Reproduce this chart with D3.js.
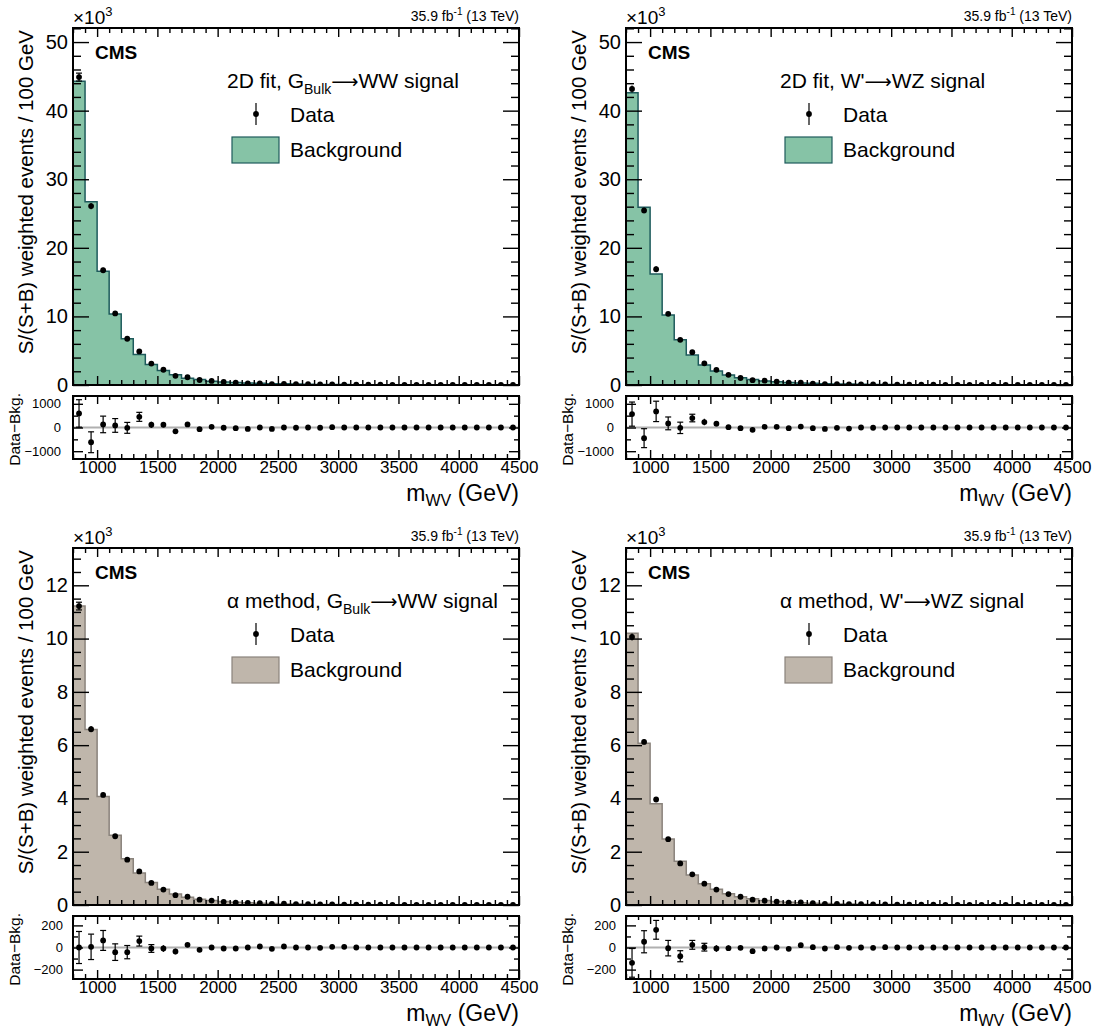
<!DOCTYPE html>
<html><head><meta charset="utf-8">
<script src="https://cdn.jsdelivr.net/npm/d3@7"></script>
<style>body{margin:0;background:#fff} svg text{font-family:"Liberation Sans",Arial,Helvetica,sans-serif}</style>
</head><body><svg id="c" width="1096" height="1028"></svg>
<script>
// ---------- data ----------
const binLow = [800,900,1000,1100,1200,1300,1400,1500,1600,1700,1800,1900,2000,2100,2200,2300,2400,2500,2600,2700,2800,2900,3000,3100,3200,3300,3400,3500,3600,3700,3800,3900,4000,4100,4200,4300,4400];
const xRange = [800, 4500];
const xMajorTicks = [1000,1500,2000,2500,3000,3500,4000,4500];
const mainTicksTop = [0,10,20,30,40,50];
const mainTicksBottom = [0,2,4,6,8,10,12];
const ratioTicksTop = [-1000,0,1000];
const ratioTicksBottom = [-200,0,200];

// 2D fit, G_Bulk -> WW  (main panel in units of 10^3, residuals in events)
const bkg2DWW = [44.3,26.7,16.6,10.35,6.75,4.45,3.0,2.1,1.5,1.0,0.8,0.56,0.45,0.37,0.3,0.25,0.2,0.165,0.135,0.11,0.09,0.075,0.063,0.053,0.045,0.038,0.032,0.027,0.023,0.02,0.017,0.015,0.013,0.011,0.01,0.009,0.008];
const data2DWW = [44.89,26.08,16.73,10.44,6.74,4.9,3.12,2.22,1.34,1.13,0.73,0.59,0.44,0.34,0.24,0.25,0.14,0.165,0.135,0.11,0.09,0.09,0.063,0.053,0.045,0.038,0.032,0.027,0.023,0.02,0.017,0.015,0.013,0.011,0.01,0.009,0.008];
const res2DWW = [594,-623,130,87,-15,450,116,116,-160,130,-72,30,-10,-30,-60,0,-60,0,-10,0,-10,15,0,0,0,0,0,0,0,0,0,0,0,0,0,0,0];
const err2DWW = [580,440,350,290,230,190,125,100,80,70,55,45,40,35,30,28,25,22,20,18,16,15,14,12,11,10,9,8,8,7,7,6,6,5,5,5,5];

// 2D fit, W' -> WZ
const bkg2DWZ = [42.6,25.9,16.2,10.2,6.6,4.38,2.93,2.05,1.46,1.05,0.8,0.6,0.47,0.37,0.3,0.24,0.19,0.155,0.13,0.105,0.087,0.072,0.06,0.05,0.043,0.036,0.031,0.026,0.022,0.019,0.016,0.014,0.012,0.01,0.009,0.008,0.007];
const data2DWZ = [43.17,25.45,16.88,10.37,6.59,4.78,3.16,2.21,1.48,1.02,0.7,0.63,0.5,0.34,0.34,0.21,0.13,0.14,0.085,0.105,0.097,0.072,0.06,0.05,0.043,0.036,0.031,0.026,0.022,0.019,0.016,0.014,0.012,0.01,0.009,0.008,0.007];
const res2DWZ = [565,-450,680,174,-15,400,230,160,15,-30,-100,30,30,-30,40,-30,-60,-15,-45,0,-10,0,0,0,0,0,0,0,0,0,0,0,0,0,0,0,0];
const err2DWZ = [510,400,430,270,240,160,140,110,80,50,45,40,35,30,28,25,22,20,18,16,15,14,12,11,10,9,8,8,7,7,6,6,5,5,5,5,5];

// alpha method, G_Bulk -> WW
const bkgAlWW = [11.22,6.59,4.07,2.62,1.74,1.2,0.84,0.59,0.41,0.29,0.22,0.165,0.13,0.1,0.08,0.064,0.052,0.042,0.034,0.028,0.023,0.019,0.016,0.013,0.011,0.009,0.008,0.007,0.006,0.005,0.0045,0.004,0.0035,0.003,0.0027,0.0024,0.0021];
const dataAlWW = [11.22,6.6,4.13,2.58,1.7,1.26,0.83,0.58,0.37,0.31,0.2,0.165,0.12,0.09,0.08,0.073,0.04,0.051,0.034,0.028,0.023,0.025,0.016,0.013,0.011,0.009,0.008,0.007,0.006,0.005,0.0045,0.004,0.0035,0.003,0.0027,0.0024,0.0021];
const resAlWW = [0,6,64,-42,-42,58,-9,-9,-36,24,-21,0,-9,-9,0,9,-12,9,0,0,-3,6,6,0,0,0,0,0,0,0,0,0,0,0,0,0,0];
const errAlWW = [145,115,90,75,60,45,35,30,25,20,15,12,10,9,8,7,6,5,5,4,4,4,3,3,3,3,3,2,2,2,2,2,2,2,2,2,2];

// alpha method, W' -> WZ
const bkgAlWZ = [10.2,6.07,3.8,2.48,1.64,1.13,0.8,0.59,0.42,0.31,0.23,0.17,0.13,0.1,0.08,0.064,0.052,0.042,0.034,0.028,0.023,0.019,0.016,0.013,0.011,0.009,0.008,0.007,0.006,0.005,0.0045,0.004,0.0035,0.003,0.0027,0.0024,0.0021];
const dataAlWZ = [10.06,6.12,3.96,2.47,1.56,1.15,0.8,0.58,0.41,0.31,0.2,0.16,0.13,0.09,0.1,0.067,0.043,0.045,0.034,0.034,0.026,0.019,0.016,0.013,0.011,0.009,0.008,0.007,0.006,0.005,0.0045,0.004,0.0035,0.003,0.0027,0.0024,0.0021];
const resAlWZ = [-139,52,160,-6,-79,24,3,-9,-6,-3,-33,-9,0,-12,21,3,-9,3,-3,0,-3,3,0,0,0,0,0,0,0,0,0,0,0,0,0,0,0];
const errAlWZ = [130,100,85,70,50,40,35,30,25,20,15,12,10,9,8,7,6,5,5,4,4,4,3,3,3,3,3,2,2,2,2,2,2,2,2,2,2];

const headers = [
  [["2D fit, G",""],["Bulk","sub"],["\u27f6","arrow"],["WW signal",""]],
  [["2D fit, W'",""],["\u27f6","arrow"],["WZ signal",""]],
  [["\u03b1 method, G",""],["Bulk","sub"],["\u27f6","arrow"],["WW signal",""]],
  [["\u03b1 method, W'",""],["\u27f6","arrow"],["WZ signal",""]]
];

// ---------- layout ----------
const W = 446, MH = 357, RT = 368, RH = 63;
const GREEN = {fill:"#86c3a6", stroke:"#1e5b5c"};
const BEIGE = {fill:"#bfb6ab", stroke:"#8a837c"};

const panels = [
  {col:0,row:0,bkg:bkg2DWW,data:data2DWW,res:res2DWW,err:err2DWW,col_:GREEN,yMax:52.05,yTicks:mainTicksTop,yMinor:2,rMax:1330,rTicks:ratioTicksTop,rMinor:500,rPad:12,hdr:headers[0]},
  {col:1,row:0,bkg:bkg2DWZ,data:data2DWZ,res:res2DWZ,err:err2DWZ,col_:GREEN,yMax:52.05,yTicks:mainTicksTop,yMinor:2,rMax:1330,rTicks:ratioTicksTop,rMinor:500,rPad:12,hdr:headers[1]},
  {col:0,row:1,bkg:bkgAlWW,data:dataAlWW,res:resAlWW,err:errAlWW,col_:BEIGE,yMax:13.4,yTicks:mainTicksBottom,yMinor:0.5,rMax:285,rTicks:ratioTicksBottom,rMinor:100,rPad:10,hdr:headers[2]},
  {col:1,row:1,bkg:bkgAlWZ,data:dataAlWZ,res:resAlWZ,err:errAlWZ,col_:BEIGE,yMax:13.4,yTicks:mainTicksBottom,yMinor:0.5,rMax:285,rTicks:ratioTicksBottom,rMinor:100,rPad:10,hdr:headers[3]}
];

const svg = d3.select("#c");
const defs = svg.append("defs");
const FONT = '"Liberation Sans",Arial,Helvetica,sans-serif';

function styleAxis(sel, fs){
  sel.attr("font-family", FONT).attr("font-size", fs);
  sel.select(".domain").remove();
  sel.selectAll(".tick line").attr("stroke","#000").attr("stroke-width",1.4);
  sel.selectAll(".tick text").attr("fill","#000");
}

function minorList(lo, hi, step, majors){
  const out = [];
  for (let v = Math.ceil(lo/step)*step; v <= hi + 1e-9; v += step) {
    const r = Math.round(v*1000)/1000;
    if (!majors.some(m => Math.abs(m - r) < 1e-6)) out.push(r);
  }
  return out;
}

panels.forEach((p, i) => {
  const x0 = p.col ? 626 : 73, y0 = p.row ? 548 : 28;
  const x = d3.scaleLinear().domain(xRange).range([0, W]);
  const y = d3.scaleLinear().domain([0, p.yMax]).range([MH, 0]);
  const yr = d3.scaleLinear().domain([-p.rMax, p.rMax]).range([RH, 0]);
  const xMinor = minorList(800, 4500, 100, xMajorTicks);

  defs.append("clipPath").attr("id","cm"+i).append("rect").attr("width",W).attr("height",MH);
  defs.append("clipPath").attr("id","cr"+i).append("rect").attr("width",W).attr("height",RH);

  // ===== main panel =====
  const g = svg.append("g").attr("transform",`translate(${x0},${y0})`);
  const steps = binLow.map((b,j)=>({x:b, v:p.bkg[j]}));
  steps.push({x:xRange[1], v:p.bkg[p.bkg.length-1]});
  const gc = g.append("g").attr("clip-path",`url(#cm${i})`);
  gc.append("path").datum(steps)
    .attr("d", d3.area().curve(d3.curveStepAfter).x(d=>x(d.x)).y0(y(0)).y1(d=>y(d.v)))
    .attr("fill", p.col_.fill);
  gc.append("path").datum(steps)
    .attr("d", d3.line().curve(d3.curveStepAfter).x(d=>x(d.x)).y(d=>y(d.v)))
    .attr("fill","none").attr("stroke", p.col_.stroke).attr("stroke-width",1.5);

  const pts = binLow.map((b,j)=>({c:b+50, v:p.data[j], e:p.err[j]/1000, r:p.res[j], re:p.err[j]}));
  const pm = gc.append("g");
  pm.selectAll("line.eb").data(pts).join("line").attr("class","eb")
    .attr("x1",d=>x(d.c)).attr("x2",d=>x(d.c)).attr("y1",d=>y(d.v+d.e)).attr("y2",d=>y(d.v-d.e))
    .attr("stroke","#000").attr("stroke-width",1.2);
  pm.selectAll("line.ct").data(pts.filter(d=>y(d.v-d.e)-y(d.v+d.e)>7)).join("line").attr("class","ct")
    .attr("x1",d=>x(d.c)-3).attr("x2",d=>x(d.c)+3).attr("y1",d=>y(d.v+d.e)).attr("y2",d=>y(d.v+d.e))
    .attr("stroke","#000").attr("stroke-width",1.2);
  pm.selectAll("line.cb").data(pts.filter(d=>y(d.v-d.e)-y(d.v+d.e)>7)).join("line").attr("class","cb")
    .attr("x1",d=>x(d.c)-3).attr("x2",d=>x(d.c)+3).attr("y1",d=>y(d.v-d.e)).attr("y2",d=>y(d.v-d.e))
    .attr("stroke","#000").attr("stroke-width",1.2);
  pm.selectAll("circle").data(pts).join("circle")
    .attr("cx",d=>x(d.c)).attr("cy",d=>y(d.v)).attr("r",2.9).attr("fill","#000");

  // axes main
  const yMinor = minorList(0, p.yMax, p.yMinor, p.yTicks);
  g.append("g").call(d3.axisLeft(y).tickValues(p.yTicks).tickSize(-16).tickPadding(5).tickFormat(d3.format("d"))).call(s=>styleAxis(s,20));
  g.append("g").call(d3.axisLeft(y).tickValues(yMinor).tickSize(-8).tickFormat("")).call(s=>styleAxis(s,10));
  g.append("g").attr("transform",`translate(${W},0)`).call(d3.axisRight(y).tickValues(p.yTicks).tickSize(-16).tickFormat("")).call(s=>styleAxis(s,10));
  g.append("g").attr("transform",`translate(${W},0)`).call(d3.axisRight(y).tickValues(yMinor).tickSize(-8).tickFormat("")).call(s=>styleAxis(s,10));
  g.append("g").call(d3.axisTop(x).tickValues(xMajorTicks).tickSize(-9).tickFormat("")).call(s=>styleAxis(s,10));
  g.append("g").call(d3.axisTop(x).tickValues(xMinor).tickSize(-5).tickFormat("")).call(s=>styleAxis(s,10));
  g.append("g").attr("transform",`translate(0,${MH})`).call(d3.axisBottom(x).tickValues(xMajorTicks).tickSize(-9).tickFormat("")).call(s=>styleAxis(s,10));
  g.append("g").attr("transform",`translate(0,${MH})`).call(d3.axisBottom(x).tickValues(xMinor).tickSize(-5).tickFormat("")).call(s=>styleAxis(s,10));
  g.append("rect").attr("width",W).attr("height",MH).attr("fill","none").attr("stroke","#000").attr("stroke-width",2);

  // texts
  const t10 = g.append("text").attr("x",0).attr("y",-4).attr("font-size",19);
  t10.append("tspan").text("\u00d710");
  t10.append("tspan").attr("font-size",13).attr("dy",-8).text("3");
  const lumi = g.append("text").attr("x",W).attr("y",-7).attr("text-anchor","end").attr("font-size",14);
  lumi.append("tspan").text("35.9 fb");
  lumi.append("tspan").attr("font-size",10).attr("dy",-6).text("-1");
  lumi.append("tspan").attr("dy",6).text(" (13 TeV)");
  g.append("text").attr("x",22).attr("y",31).attr("font-size",19).attr("font-weight","bold").text("CMS");

  // legend
  const hdr = g.append("text").attr("x",154).attr("y",60).attr("font-size",21);
  let shifted = false;
  p.hdr.forEach(([txt, kind]) => {
    const ts = hdr.append("tspan").text(txt);
    if (kind === "sub") { ts.attr("font-size",14).attr("dy",6); shifted = true; return; }
    if (shifted) { ts.attr("dy",-6); shifted = false; }
    if (kind === "arrow") { ts.attr("font-family",'"DejaVu Sans",sans-serif').attr("font-size",19); }
  });
  g.append("line").attr("x1",183).attr("x2",183).attr("y1",75).attr("y2",97).attr("stroke","#000").attr("stroke-width",1.2);
  g.append("circle").attr("cx",183).attr("cy",86).attr("r",2.9).attr("fill","#000");
  g.append("text").attr("x",217).attr("y",94).attr("font-size",21).text("Data");
  g.append("rect").attr("x",159).attr("y",109).attr("width",47).attr("height",26)
    .attr("fill",p.col_.fill).attr("stroke",p.col_.stroke).attr("stroke-width",1.2);
  g.append("text").attr("x",217).attr("y",129).attr("font-size",21).text("Background");

  // y title
  g.append("text").attr("transform",`translate(-40,2) rotate(-90)`).attr("text-anchor","end")
    .attr("font-size",20.5).text("S/(S+B) weighted events / 100 GeV");

  // ===== ratio panel =====
  const r = svg.append("g").attr("transform",`translate(${x0},${y0+RT})`);
  const rc = r.append("g").attr("clip-path",`url(#cr${i})`);
  rc.append("line").attr("x1",0).attr("x2",W).attr("y1",yr(0)).attr("y2",yr(0)).attr("stroke","#b0b0b0").attr("stroke-width",2);
  rc.selectAll("line.eb").data(pts).join("line").attr("class","eb")
    .attr("x1",d=>x(d.c)).attr("x2",d=>x(d.c)).attr("y1",d=>yr(d.r+d.re)).attr("y2",d=>yr(d.r-d.re))
    .attr("stroke","#000").attr("stroke-width",1.2);
  const big = pts.filter(d=>yr(d.r-d.re)-yr(d.r+d.re)>7);
  rc.selectAll("line.ct").data(big).join("line").attr("class","ct")
    .attr("x1",d=>x(d.c)-3).attr("x2",d=>x(d.c)+3).attr("y1",d=>yr(d.r+d.re)).attr("y2",d=>yr(d.r+d.re))
    .attr("stroke","#000").attr("stroke-width",1.2);
  rc.selectAll("line.cb").data(big).join("line").attr("class","cb")
    .attr("x1",d=>x(d.c)-3).attr("x2",d=>x(d.c)+3).attr("y1",d=>yr(d.r-d.re)).attr("y2",d=>yr(d.r-d.re))
    .attr("stroke","#000").attr("stroke-width",1.2);
  rc.selectAll("circle").data(pts).join("circle")
    .attr("cx",d=>x(d.c)).attr("cy",d=>yr(d.r)).attr("r",2.9).attr("fill","#000");

  const rMinor = minorList(-p.rMax, p.rMax, p.rMinor, p.rTicks);
  r.append("g").call(d3.axisLeft(yr).tickValues(p.rTicks).tickSize(-10).tickPadding(p.rPad).tickFormat(d3.format("d"))).call(s=>styleAxis(s,13));
  r.append("g").call(d3.axisLeft(yr).tickValues(rMinor).tickSize(-5).tickFormat("")).call(s=>styleAxis(s,10));
  r.append("g").attr("transform",`translate(${W},0)`).call(d3.axisRight(yr).tickValues(p.rTicks).tickSize(-10).tickFormat("")).call(s=>styleAxis(s,10));
  r.append("g").attr("transform",`translate(${W},0)`).call(d3.axisRight(yr).tickValues(rMinor).tickSize(-5).tickFormat("")).call(s=>styleAxis(s,10));
  r.append("g").call(d3.axisTop(x).tickValues(xMajorTicks).tickSize(-8).tickFormat("")).call(s=>styleAxis(s,10));
  r.append("g").call(d3.axisTop(x).tickValues(xMinor).tickSize(-4).tickFormat("")).call(s=>styleAxis(s,10));
  r.append("g").attr("transform",`translate(0,${RH})`).call(d3.axisBottom(x).tickValues(xMajorTicks).tickSize(-9).tickPadding(2).tickFormat(d3.format("d"))).call(s=>styleAxis(s,17));
  r.append("g").attr("transform",`translate(0,${RH})`).call(d3.axisBottom(x).tickValues(xMinor).tickSize(-5).tickFormat("")).call(s=>styleAxis(s,10));
  r.append("rect").attr("width",W).attr("height",RH).attr("fill","none").attr("stroke","#000").attr("stroke-width",2);

  r.append("text").attr("transform",`translate(-53,-3) rotate(-90)`).attr("text-anchor","end")
    .attr("font-size",15.5).text("Data\u2212Bkg.");

  const xt = r.append("text").attr("x",W).attr("y",RH+42).attr("text-anchor","end").attr("font-size",23);
  xt.append("tspan").text("m");
  xt.append("tspan").attr("font-size",16).attr("dy",5).text("WV");
  xt.append("tspan").attr("dy",-5).text(" (GeV)");
});
</script></body></html>
